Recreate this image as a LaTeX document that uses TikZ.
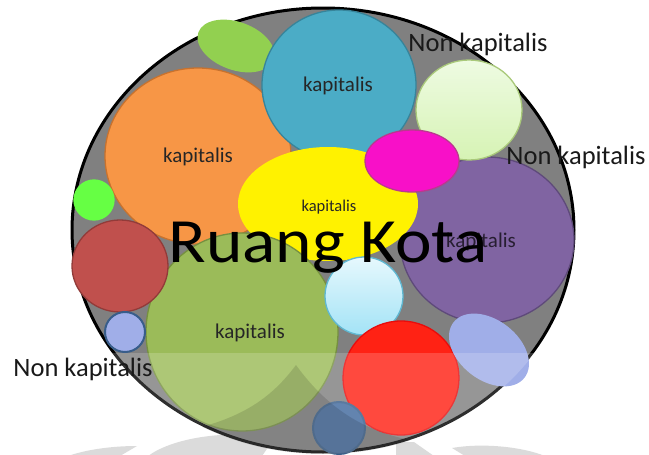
\documentclass[tikz,border=0pt]{standalone}
\usepackage{fontspec}
\setmainfont{Carlito}
% bubble colours
\definecolor{ringgray}{HTML}{808080}
\definecolor{leafgreen}{HTML}{92D050}
\definecolor{teal1}{HTML}{4BACC6}
\definecolor{teal2}{HTML}{37849A}
\definecolor{orange1}{HTML}{F79646}
\definecolor{orange2}{HTML}{C8722E}
\definecolor{purple1}{HTML}{8064A2}
\definecolor{purple2}{HTML}{5E4A7A}
\definecolor{mint1}{HTML}{EEFBE2}
\definecolor{mint2}{HTML}{D6F3B4}
\definecolor{mint3}{HTML}{A9C97A}
\definecolor{magenta1}{HTML}{F810C8}
\definecolor{magenta2}{HTML}{B93A8E}
\definecolor{olive1}{HTML}{9BBB59}
\definecolor{olive2}{HTML}{76903F}
\definecolor{lime1}{HTML}{66FF44}
\definecolor{brick1}{HTML}{C0504D}
\definecolor{brick2}{HTML}{923B39}
\definecolor{peri1}{HTML}{A0AEE8}
\definecolor{navy1}{HTML}{385D8A}
\definecolor{ice1}{HTML}{E6F8FD}
\definecolor{ice2}{HTML}{A3E3F6}
\definecolor{ice3}{HTML}{5FB8D2}
\definecolor{red1}{HTML}{FF2214}
\definecolor{red2}{HTML}{E80C0C}
\definecolor{steel1}{HTML}{41699E}
\begin{document}
\begin{tikzpicture}[x=1pt, y=-1pt,
  bubble/.style={line width=1.3pt},
  lbl/.style={font=\fontsize{21}{24}\selectfont, text=black!85, anchor=base, inner sep=0pt},
  side/.style={font=\fontsize{26.5}{30}\selectfont, text=black!90, anchor=base, inner sep=0pt}]
\useasboundingbox (0,0) rectangle (649,455);
% ---------- faint reflections below the ring ----------
\fill[gray!28] (68,456) .. controls (85,450) and (110,446) .. (137,446) -- (120,456) -- cycle;
\fill[gray!28] (148,456) .. controls (170,440) and (215,430) .. (276,436) -- (262,456) -- cycle;
\fill[gray!28] (396,442) -- (414,442) -- (434,456) -- (396,456) -- cycle;
\fill[gray!28] (452,448) .. controls (480,443) and (520,446) .. (545,456) -- (465,456) -- cycle;
% ---------- the city space ----------
\fill[ringgray] (323,230) ellipse [x radius=251, y radius=222];
\draw[line width=3pt] (323,230) ellipse [x radius=251, y radius=222];
% ---------- bubbles, back to front ----------
\fill[leafgreen, rotate around={-20:(236,46)}] (236,46) ellipse [x radius=40, y radius=24];
\foreach \cx/\cy/\rx/\ry/\fc/\dc in {198/156/93/88/orange1/orange2, 339/85/77/75/teal1/teal2, 487/240/87/83/purple1/purple2}
  \filldraw[bubble, fill=\fc, draw=\dc] (\cx,\cy) ellipse [x radius=\rx, y radius=\ry];
\shade[top color=mint1, bottom color=mint2, draw=mint3, bubble] (469,110) ellipse [x radius=53, y radius=50];
\fill[yellow] (328,204) ellipse [x radius=90, y radius=57];
\foreach \cx/\cy/\rx/\ry/\fc/\dc in {412/161/47/31/magenta1/magenta2, 242/332/96/99/olive1/olive2, 94/200/20/20/lime1/lime1, 120/266/48/46/brick1/brick2}
  \filldraw[bubble, fill=\fc, draw=\dc] (\cx,\cy) ellipse [x radius=\rx, y radius=\ry];
\filldraw[fill=peri1, draw=navy1, line width=2pt] (125,332) circle [radius=20];
\shade[top color=ice1, bottom color=ice2, draw=ice3, bubble] (364,296) circle [radius=39];
\filldraw[bubble, fill=red1, draw=red2] (401,378) ellipse [x radius=58, y radius=57];
\fill[peri1, rotate around={-38:(489,350)}] (489,350) ellipse [x radius=45, y radius=30];
\filldraw[fill=steel1, draw=navy1, line width=2pt] (339,428) circle [radius=26];
% ---------- gloss on the lower part ----------
\begin{scope}
  \clip (323,230) ellipse [x radius=253, y radius=224];
  \fill[white, opacity=.18] (40,353) rectangle (610,470);
  \fill[black, opacity=.12] (180,470) -- (190,430) .. controls (240,418) and (270,400) .. (296,365)
    .. controls (325,405) and (360,430) .. (410,440) -- (410,470) -- cycle;
\end{scope}
% ---------- labels ----------
\node[lbl] (kapTeal) at (338,91) {kapitalis};
\node[lbl] (kapOrange) at (198,162) {kapitalis};
\node[lbl, font=\fontsize{16.5}{19}\selectfont] (kapYellow) at (329,211) {kapitalis};
\node[lbl, text=black!70!purple1] (kapPurple) at (481,247) {kapitalis};
\node[lbl] (kapOlive) at (250,338) {kapitalis};
\node[anchor=base, inner sep=0pt, xscale=1.1, font=\fontsize{63}{70}\selectfont] (kota) at (328,262) {Ruang Kota};
\node[side] (nonTop) at (478,52) {Non kapitalis};
\node[side] (nonRight) at (576,164) {Non kapitalis};
\node[side] (nonLeft) at (83,376) {Non kapitalis};
\end{tikzpicture}
\end{document}
